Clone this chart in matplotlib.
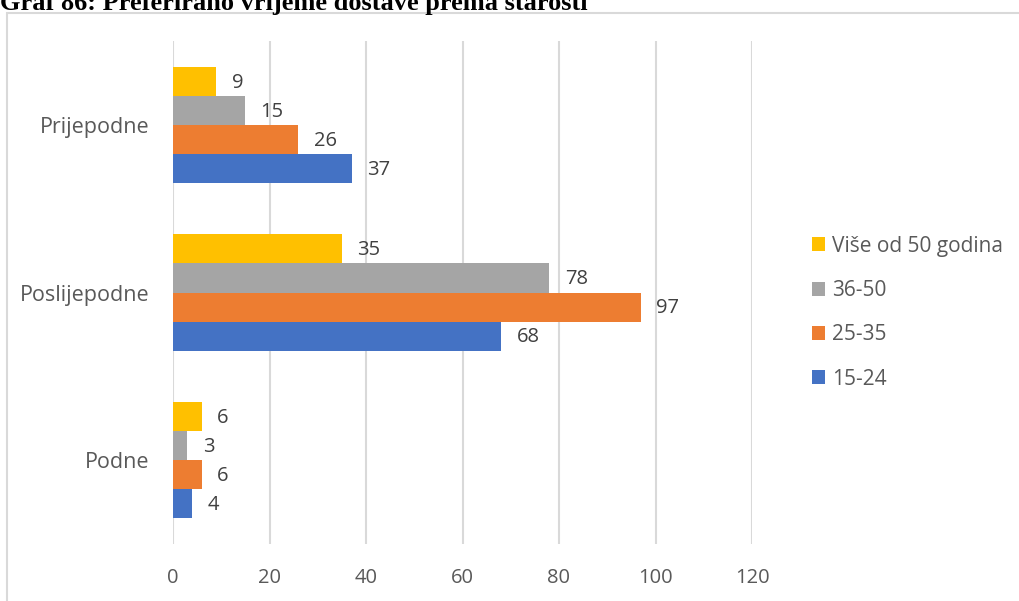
import matplotlib
matplotlib.use("Agg")
import matplotlib.pyplot as plt
import numpy as np
from matplotlib.patches import Rectangle

categories = ["Podne", "Poslijepodne", "Prijepodne"]
series_names = ["15-24", "25-35", "36-50", "Više od 50 godina"]
values_15_24 = [4, 68, 37]
values_25_35 = [6, 97, 26]
values_36_50 = [3, 78, 15]
values_50_plus = [6, 35, 9]
colors = ["#4472C4", "#ED7D31", "#A5A5A5", "#FFC000"]
xticks = [0, 20, 40, 60, 80, 100, 120]
title = "Graf 86: Preferirano vrijeme dostave prema starosti"

all_values = [values_15_24, values_25_35, values_36_50, values_50_plus]

fig = plt.figure(figsize=(10.2, 6.01), dpi=100)
W, H = 1020, 601

# chart frame
fig.patches.append(Rectangle((7 / W, -0.1), 1.2, 1 - 13 / H + 0.1, transform=fig.transFigure,
                             fill=False, edgecolor="#D9D9D9", linewidth=1.5))

fig.text(0.0, 1 - 10 / H, title, family="Liberation Serif", weight="bold", fontsize=19,
         ha="left", va="baseline", color="black")

ax = fig.add_axes([173 / W, 1 - 544 / H, (752 - 173) / W, (544 - 41) / H])
font = "Open Sans"
bh = 0.173
y = np.arange(len(categories))
offsets = [-1.5 * bh, -0.5 * bh, 0.5 * bh, 1.5 * bh]
handles = []
for vals, name, col, off in zip(all_values, series_names, colors, offsets):
    b = ax.barh(y + off, vals, height=bh, color=col, label=name, zorder=3)
    handles.append(b)
    for yi, v in zip(y, vals):
        ax.annotate(str(v), xy=(v, yi + off), xytext=(11, -1), textcoords="offset points",
                    va="center", ha="left", fontsize=14.5, color="#404040", family=font)

ax.set_xlim(0, 120)
ax.set_ylim(-0.5, 2.5)
ax.set_xticks(xticks)
ax.set_xticklabels([str(t) for t in xticks], family=font, fontsize=14.5, color="#595959")
ax.set_yticks(y)
ax.set_yticklabels(categories, family=font, fontsize=15.5, color="#595959")
ax.tick_params(axis="both", length=0)
ax.tick_params(axis="x", pad=17)
ax.tick_params(axis="y", pad=17)
ax.grid(axis="x", color="#D9D9D9", linewidth=1.5, zorder=0)
for s in ax.spines.values():
    s.set_visible(False)

leg = ax.legend(handles=handles[::-1], labels=series_names[::-1], loc="upper left",
                bbox_to_anchor=(797 / W, 1 - 221 / H), bbox_transform=fig.transFigure,
                frameon=False, prop={"family": font, "size": 15}, handlelength=0.65,
                handleheight=0.65, handletextpad=0.35, labelspacing=1.12, borderpad=0.2)
for t in leg.get_texts():
    t.set_color("#595959")

fig.savefig("out.png", dpi=100)
